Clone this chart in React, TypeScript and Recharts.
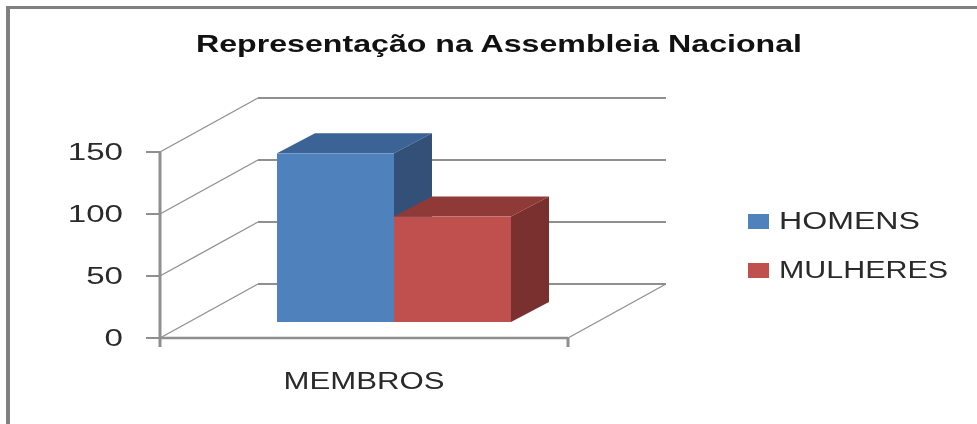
import { BarChart, Bar, XAxis, YAxis, CartesianGrid, Legend } from 'recharts';

const categories = ['MEMBROS'];
const homens = [136];
const mulheres = [85];
const yTicks = [0, 50, 100, 150];

const chartData = categories.map((name, i) => ({
  name,
  HOMENS: homens[i],
  MULHERES: mulheres[i],
}));

const WALL_DX = 98;
const WALL_DY = 54;
const BAR_DX = 38;
const BAR_DY = 20;
const AXIS_GREY = '#8f8f8f';
const FONT = '"Liberation Sans", Arial, sans-serif';

// the grid goes along the side wall, then along the back wall
function WallLine(props: any) {
  const { x1, x2, y1, y, height } = props;
  const isFloor = Math.abs(y1 - (y + height)) < 1;
  const backY = y1 - WALL_DY;
  return (
    <g>
      <line x1={x1} y1={y1} x2={x1 + WALL_DX} y2={backY} stroke={AXIS_GREY} strokeWidth={1.3} />
      <line x1={x1 + WALL_DX} y1={backY} x2={x2 + WALL_DX} y2={backY} stroke={AXIS_GREY} strokeWidth={2} />
      {isFloor && (
        <>
          <line x1={x2} y1={y1} x2={x2 + WALL_DX} y2={backY} stroke={AXIS_GREY} strokeWidth={1.3} />
          <line x1={x1} y1={y1} x2={x1} y2={y1 + 9} stroke={AXIS_GREY} strokeWidth={3} />
          <line x1={x2} y1={y1} x2={x2} y2={y1 + 9} stroke={AXIS_GREY} strokeWidth={3} />
        </>
      )}
    </g>
  );
}

function Box3D(props: any) {
  const { x, y, width, height, front, top, side } = props;
  const left = x + 30;
  const up = y - 16;
  const right = left + width;
  const bottom = up + height;
  return (
    <g>
      <polygon
        points={`${left},${up} ${left + BAR_DX},${up - BAR_DY} ${right + BAR_DX},${up - BAR_DY} ${right},${up}`}
        fill={top}
      />
      <polygon
        points={`${right},${up} ${right + BAR_DX},${up - BAR_DY} ${right + BAR_DX},${bottom - BAR_DY} ${right},${bottom}`}
        fill={side}
      />
      <rect x={left} y={up} width={width} height={height} fill={front} />
    </g>
  );
}

function YTick(props: any) {
  const { x, y, payload } = props;
  const label = String(payload.value);
  return (
    <text
      x={x - 21}
      y={y + 8}
      textAnchor="end"
      fontFamily={FONT}
      fontSize={23}
      fill="#2a2a2a"
      textLength={label.length * 18.4}
      lengthAdjust="spacingAndGlyphs"
    >
      {label}
    </text>
  );
}

function XTick(props: any) {
  const { x, payload } = props;
  return (
    <text
      x={x}
      y={389}
      textAnchor="middle"
      fontFamily={FONT}
      fontSize={23}
      fill="#2a2a2a"
      textLength={161}
      lengthAdjust="spacingAndGlyphs"
    >
      {payload.value}
    </text>
  );
}

const legendWidths: Record<string, number> = { HOMENS: 141, MULHERES: 169 };

function LegendBox({ payload }: any) {
  return (
    <svg width={205} height={80} style={{ display: 'block', overflow: 'visible' }}>
      {(payload || []).map((item: any, i: number) => (
        <g key={item.value} transform={`translate(0, ${i * 49})`}>
          <rect x={0} y={0} width={21} height={15} fill={item.color} />
          <text
            x={31}
            y={15}
            fontFamily={FONT}
            fontSize={23}
            fill="#2a2a2a"
            textLength={legendWidths[item.value]}
            lengthAdjust="spacingAndGlyphs"
          >
            {item.value}
          </text>
        </g>
      ))}
    </svg>
  );
}

export default function App() {
  return (
    <div
      style={{
        position: 'absolute',
        left: 0,
        top: 0,
        width: 977,
        height: 424,
        background: '#fff',
        overflow: 'hidden',
        filter: 'blur(0.7px)',
      }}
    >
      <div
        style={{
          position: 'absolute',
          left: 6,
          top: 6,
          width: 977,
          height: 430,
          borderLeft: '4px solid #808080',
          borderTop: '3px solid #808080',
        }}
      />
      <BarChart
        width={977}
        height={424}
        data={chartData}
        margin={{ top: 152, right: 409, bottom: 0, left: 0 }}
        barSize={117}
        barGap={0}
        barCategoryGap={0}
        style={{ position: 'absolute', left: 0, top: 0 }}
      >
        <text
          x={196}
          y={52}
          fontFamily={FONT}
          fontSize={24}
          fontWeight="bold"
          fill="#111"
          textLength={606}
          lengthAdjust="spacingAndGlyphs"
        >
          Representação na Assembleia Nacional
        </text>
        <CartesianGrid vertical={false} horizontal={(p: any) => <WallLine {...p} key={p.key} />} />
        <XAxis
          dataKey="name"
          height={86}
          axisLine={{ stroke: AXIS_GREY, strokeWidth: 2.5 }}
          tickLine={false}
          tick={<XTick />}
        />
        <YAxis
          width={160}
          domain={[0, 150]}
          ticks={yTicks}
          tickSize={14}
          axisLine={{ stroke: AXIS_GREY, strokeWidth: 3 }}
          tickLine={{ stroke: AXIS_GREY, strokeWidth: 2 }}
          tick={<YTick />}
        />
        <Legend
          layout="vertical"
          align="center"
          verticalAlign="middle"
          wrapperStyle={{ left: 748, top: 214, width: 205 }}
          content={<LegendBox />}
        />
        <Bar
          dataKey="HOMENS"
          fill="#4F81BD"
          isAnimationActive={false}
          shape={(p: any) => <Box3D {...p} front="#4F81BD" top="#3B6396" side="#335178" />}
        />
        <Bar
          dataKey="MULHERES"
          fill="#C0504D"
          isAnimationActive={false}
          shape={(p: any) => <Box3D {...p} front="#C0504D" top="#8F3A37" side="#7A302E" />}
        />
      </BarChart>
    </div>
  );
}
